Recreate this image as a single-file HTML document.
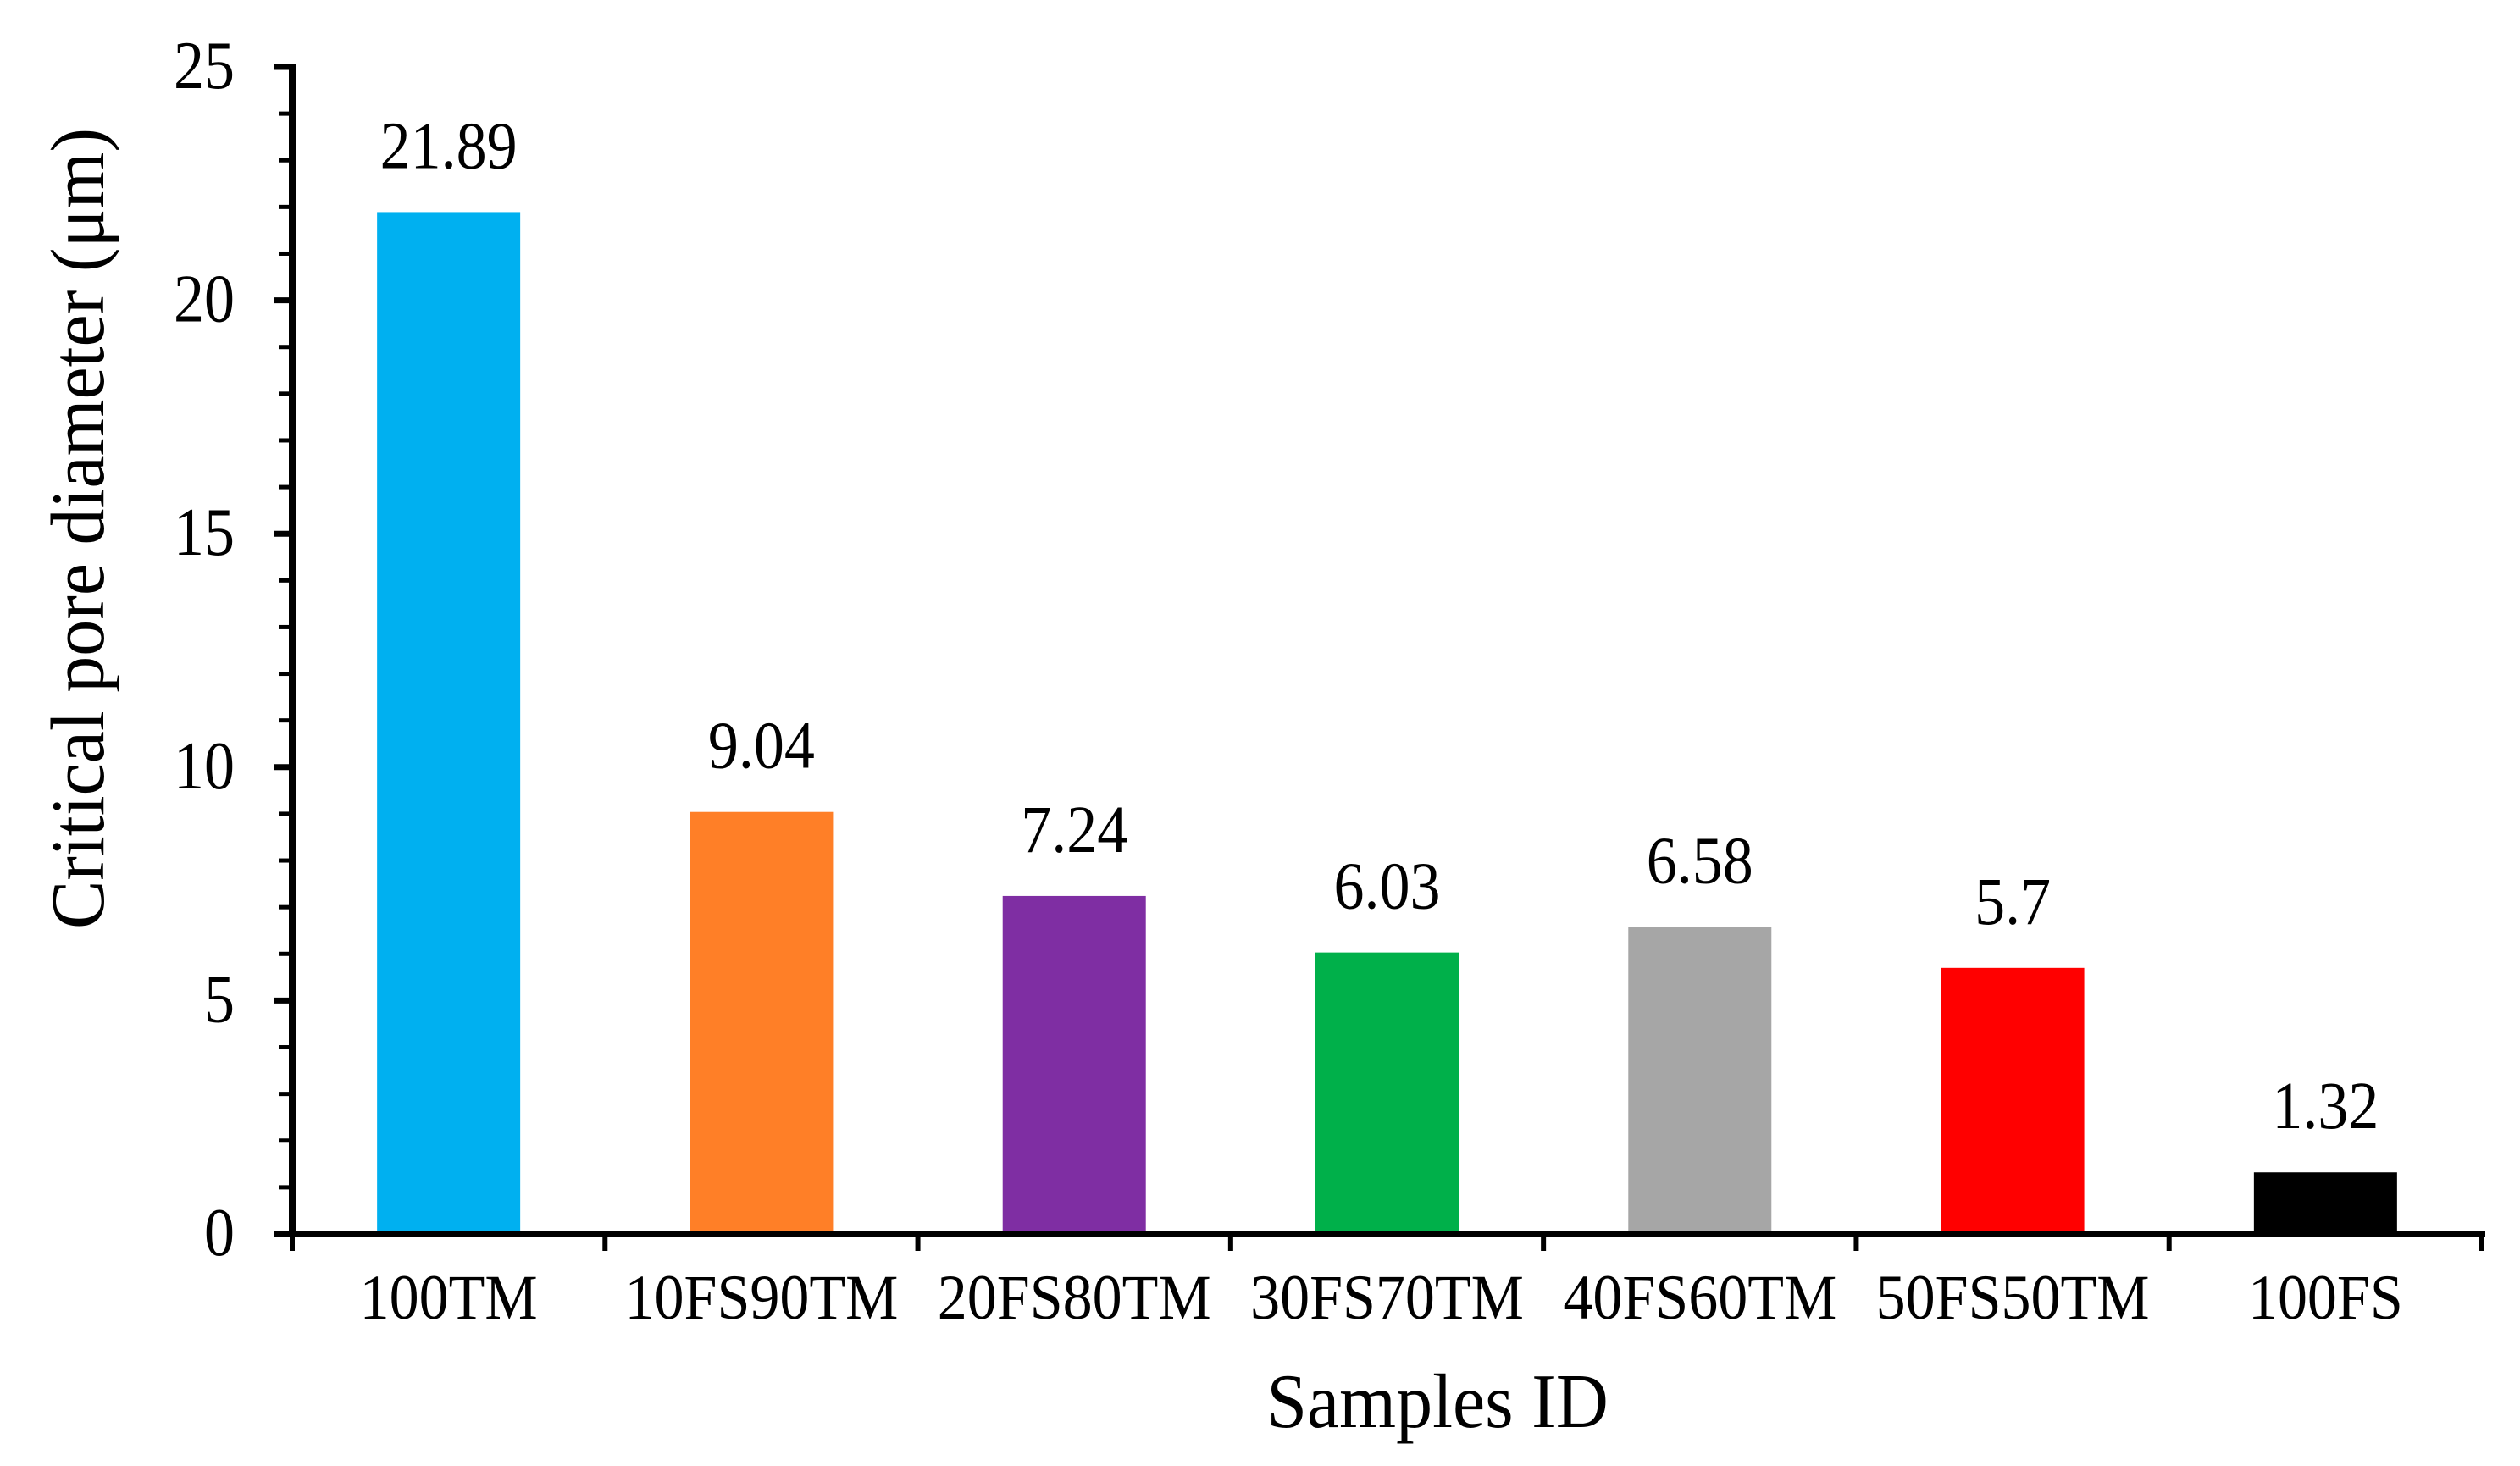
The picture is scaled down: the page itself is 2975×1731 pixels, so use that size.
<!DOCTYPE html>
<html><head><meta charset="utf-8"><style>
html,body{margin:0;padding:0;background:#fff;}
svg{display:block;font-family:"Liberation Serif",serif;}
</style></head><body>
<svg id="chart" width="2975" height="1731" viewBox="0 0 2975 1731" xmlns="http://www.w3.org/2000/svg">
<g id="bars"></g>
<g id="labels"></g>
<g id="axes"></g>
<text x="0" y="0" transform="translate(122,624) rotate(-90) scale(1,1.05)" text-anchor="middle" font-size="86">Critical pore diameter (μm)</text>
<text x="0" y="0" transform="translate(1697,1685) scale(1,1.06)" text-anchor="middle" font-size="86">Samples ID</text>
</svg>
<script>
const categories = ["100TM","10FS90TM","20FS80TM","30FS70TM","40FS60TM","50FS50TM","100FS"];
const values = [21.89, 9.04, 7.24, 6.03, 6.58, 5.7, 1.32];
const valueLabels = ["21.89","9.04","7.24","6.03","6.58","5.7","1.32"];
const colors = ["#00B0F0","#FF7F27","#7F2EA3","#00B04A","#A6A6A6","#FF0000","#000000"];
const yTicks = [0,5,10,15,20,25];

const NS="http://www.w3.org/2000/svg";
const X0=345, X1=2930, Y0=1457, YTOP=79, YMAX=25;
const band=(X1-X0)/categories.length, barW=169;
const yScale=v=>Y0-(v/YMAX)*(Y0-YTOP);
const xCenter=i=>X0+band*(i+0.5);
function mk(tag,attrs,parent){const e=document.createElementNS(NS,tag);for(const k in attrs)e.setAttribute(k,attrs[k]);parent.appendChild(e);return e;}
const gb=document.getElementById('bars'), gl=document.getElementById('labels'), ga=document.getElementById('axes');
values.forEach((v,i)=>{
  const r=mk('rect',{x:xCenter(i)-barW/2,y:yScale(v),width:barW,height:Y0-yScale(v),fill:colors[i]},gb);
  
  
  const t=mk('text',{x:0,y:0,transform:'translate('+xCenter(i)+','+(yScale(v)-52)+') scale(1,1.1)','text-anchor':'middle','font-size':'72'},gl);
  t.textContent=valueLabels[i];
  
  
  const c=mk('text',{x:0,y:0,transform:'translate('+xCenter(i)+',1557) scale(1,1.08)','text-anchor':'middle','font-size':'70'},ga);
  c.textContent=categories[i];
  
  
});
const ya=mk('line',{x1:X0,y1:YTOP-4,x2:X0,y2:Y0+4,stroke:'#000','stroke-width':8},ga);


const xa=mk('line',{x1:323,y1:Y0,x2:X1+4,y2:Y0,stroke:'#000','stroke-width':8},ga);


for(let v=0;v<=YMAX;v++){
  const major=v%5===0;
  const tk=mk('line',{x1:major?323:329,y1:yScale(v),x2:X0,y2:yScale(v),stroke:'#000','stroke-width':major?7:5},ga);
  
  
}
yTicks.forEach(v=>{
  const t=mk('text',{x:0,y:0,transform:'translate(277,'+(yScale(v)+25)+') scale(1,1.12)','text-anchor':'end','font-size':'72'},ga);
  t.textContent=String(v);
  
  
});
for(let i=0;i<=categories.length;i++){
  const x=X0+band*i;
  const tk=mk('line',{x1:x,y1:Y0,x2:x,y2:1477,stroke:'#000','stroke-width':6},ga);
  
  
}
</script>
</body></html>
